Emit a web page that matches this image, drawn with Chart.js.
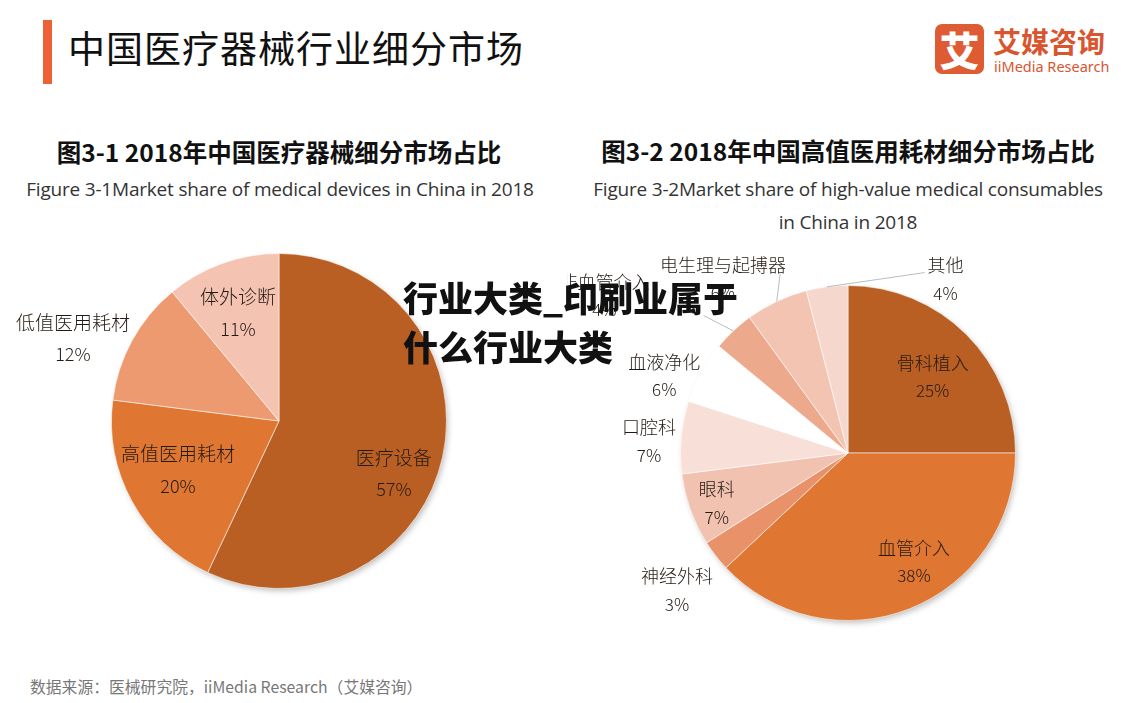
<!DOCTYPE html>
<html>
<head>
<meta charset="utf-8">
<script src="https://cdn.jsdelivr.net/npm/chart.js@4"></script>
<style>
  html, body { margin: 0; padding: 0; background: #fff; }
  body { width: 1134px; height: 703px; position: relative; overflow: hidden;
         font-family: "Noto Sans CJK SC", "Noto Sans", sans-serif; color: #222; }
  .abs { position: absolute; white-space: nowrap; }
  .ctr { transform: translateX(-50%); text-align: center; }
  canvas { position: absolute; }
</style>
</head>
<body>
<div class="abs" style="left:43px;top:20px;width:9px;height:64px;background:#EE6035;"></div>
<div class="abs" style="left:68px;top:23px;font-size:37px;line-height:48px;color:#111;letter-spacing:1px;">中国医疗器械行业细分市场</div>

<div class="abs" style="left:935px;top:24px;width:49px;height:50px;border-radius:7px;background:#DE5B34;color:#fff;font-size:40px;font-weight:900;line-height:50px;text-align:center;">艾</div>
<div class="abs" style="left:993px;top:24px;font-size:28px;font-weight:700;line-height:34px;color:#D9552F;">艾媒咨询</div>
<div class="abs" style="left:994px;top:57px;font-family:'Noto Sans',sans-serif;font-size:14.5px;line-height:18px;color:#D9552F;">iiMedia Research</div>

<div class="abs ctr" style="left:279px;top:135px;font-size:24.5px;font-weight:700;line-height:34px;color:#111;">图3-1 2018年中国医疗器械细分市场占比</div>
<div class="abs ctr" style="left:280px;top:176px;font-family:'Open Sans',sans-serif;font-size:19px;line-height:27px;color:#333;letter-spacing:-0.2px;">Figure 3-1Market share of medical devices in China in 2018</div>

<div class="abs ctr" style="left:848px;top:134px;font-size:24.5px;font-weight:700;line-height:34px;color:#111;">图3-2 2018年中国高值医用耗材细分市场占比</div>
<div class="abs ctr" style="left:848px;top:173px;font-family:'Open Sans',sans-serif;font-size:19px;line-height:33px;color:#333;letter-spacing:-0.2px;">Figure 3-2Market share of high-value medical consumables<br>in China in 2018</div>

<canvas id="left" width="558" height="376" style="left:0;top:233px;width:558px;height:376px;"></canvas>
<canvas id="right" width="567" height="430" style="left:567px;top:240px;width:567px;height:430px;"></canvas>

<div class="abs" style="left:403px;top:272px;font-size:35px;font-weight:900;line-height:49px;color:#111;">行业大类_印刷业属于<br>什么行业大类</div>

<div class="abs" style="left:30px;top:676px;font-size:15.8px;line-height:22px;color:#777;">数据来源：医械研究院，iiMedia Research（艾媒咨询）</div>

<script>
// 图3-1 医疗器械细分市场
var leftLabels = ['医疗设备', '高值医用耗材', '低值医用耗材', '体外诊断']
var leftValues = [57, 20, 12, 11]
var leftColors = ['#B95F24', '#DF7631', '#EE9A70', '#F4C3B1']

// 图3-2 高值医用耗材细分市场
var rightLabels = ['骨科植入', '血管介入', '神经外科', '眼科', '口腔科', '血液净化', '非血管介入', '电生理与起搏器', '其他']
var rightValues = [25, 38, 3, 7, 7, 6, 4, 6, 4]
var rightColors = ['#B95F24', '#DF7631', '#E9926A', '#F2C2B0', '#F8DFD7', '#FFFFFF', '#EDA98B', '#F3C4B2', '#F6D7CD']

// 标签放置：[半径倍数, 相对扇区中线的角度偏移(度)]
var leftPlace = [[0.754, 12], [0.67, 3], [1.325, -7], [0.69, -1]]
var rightPlace = [[0.68, 3], [0.76, -9.6], [1.31, -1], [0.84, -1.3], [1.19, -2], [1.19, -6], [1.73, -14], [1.28, -10.5], [1.19, 36.5]]
// 引导线：扇区索引 -> [半径倍数, 角度偏移]
var rightLeaders = { 6: [1.19, -3.2], 7: [1.145, 4.5], 8: [1.17, 30.2] }

function pieLabels (labels, values, place, leaders, fontSize, gap) {
  return {
    id: 'pieLabels',
    beforeDatasetsDraw: function (chart) {
      var arc = chart.getDatasetMeta(0).data[0]
      var p = arc.getProps(['x', 'y', 'outerRadius'], true)
      var ctx = chart.ctx
      ctx.save()
      ctx.shadowColor = 'rgba(0,0,0,0.28)'
      ctx.shadowBlur = 6
      ctx.shadowOffsetX = 2
      ctx.shadowOffsetY = 3
      ctx.fillStyle = '#fff'
      ctx.beginPath()
      ctx.arc(p.x, p.y, p.outerRadius - 1, 0, Math.PI * 2)
      ctx.fill()
      ctx.restore()
    },
    afterDatasetsDraw: function (chart) {
      var ctx = chart.ctx
      var meta = chart.getDatasetMeta(0)
      ctx.save()
      ctx.textAlign = 'center'
      ctx.textBaseline = 'middle'
      meta.data.forEach(function (arc, i) {
        var p = arc.getProps(['x', 'y', 'startAngle', 'endAngle', 'outerRadius'], true)
        var mid = (p.startAngle + p.endAngle) / 2
        if (leaders && leaders[i]) {
          var la = mid + leaders[i][1] * Math.PI / 180
          ctx.strokeStyle = '#b9bcc2'
          ctx.lineWidth = 1
          ctx.beginPath()
          ctx.moveTo(p.x + p.outerRadius * Math.cos(mid), p.y + p.outerRadius * Math.sin(mid))
          ctx.lineTo(p.x + leaders[i][0] * p.outerRadius * Math.cos(la), p.y + leaders[i][0] * p.outerRadius * Math.sin(la))
          ctx.stroke()
        }
        var a = mid + place[i][1] * Math.PI / 180
        var r = place[i][0] * p.outerRadius
        var cx = p.x + r * Math.cos(a)
        var cy = p.y + r * Math.sin(a)
        ctx.fillStyle = '#231a14'
        ctx.font = '300 ' + fontSize + 'px "Noto Sans CJK SC"'
        ctx.fillText(labels[i], cx, cy - gap / 2)
        ctx.font = '300 ' + (fontSize - 1) + 'px "Noto Sans CJK SC"'
        ctx.fillText(values[i] + '%', cx, cy + gap / 2)
      })
      ctx.restore()
    }
  }
}

function makePie (id, labels, values, colors, padding, place, leaders, fontSize, gap) {
  new Chart(document.getElementById(id), {
    type: 'pie',
    data: {
      labels: labels,
      datasets: [{
        data: values,
        backgroundColor: colors,
        borderColor: 'rgba(255,255,255,0.55)',
        borderWidth: 1
      }]
    },
    options: {
      responsive: false,
      animation: false,
      devicePixelRatio: 1,
      layout: { padding: padding },
      plugins: { legend: { display: false }, tooltip: { enabled: false } }
    },
    plugins: [pieLabels(labels, values, place, leaders, fontSize, gap)]
  })
}

makePie('left', leftLabels, leftValues, leftColors, { left: 111, right: 111, top: 20, bottom: 20 }, leftPlace, null, 19, 32)
makePie('right', rightLabels, rightValues, rightColors, { left: 113, right: 118, top: 45, bottom: 49 }, rightPlace, rightLeaders, 18, 28)
</script>
</body>
</html>
